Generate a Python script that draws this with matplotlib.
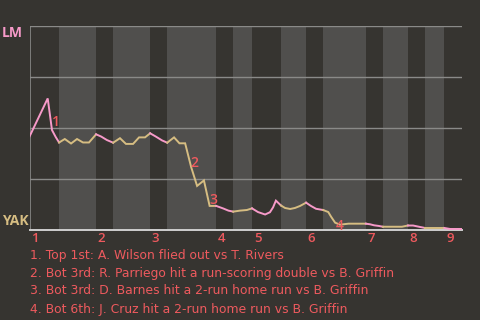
import numpy as np
import matplotlib
matplotlib.use("Agg")
import matplotlib.pyplot as plt

# ----- data -----
# half-inning boundaries, in plate-appearance units (top 1st .. top 9th)
half_edges = [0, 5.2, 11.7, 14.7, 21.2, 24.2, 32.8, 35.8, 39.1, 44.2,
              48.6, 51.6, 59.1, 62.1, 66.5, 69.5, 72.9, 76]
innings = ["1", "2", "3", "4", "5", "6", "7", "8", "9"]

# LM win probability (%) over the game
wp_x = [0, 3.2, 3.95, 4.6, 5.2, 6.2, 7.3, 8.35, 9.4, 10.45, 11.7,
        12.6, 13.6, 14.7, 15.9, 16.95, 18.2, 19.25, 20.3, 21.2,
        22.2, 23.3, 24.2, 25.4, 26.35, 27.35, 28.4, 29.45, 30.65, 31.65, 32.8,
        34.0, 34.95, 35.8, 37.0, 38.2, 39.1, 40.15, 41.4, 42.25, 42.8, 43.3, 44.2,
        44.9, 45.8, 46.65, 47.55, 48.6, 49.45, 50.35, 51.6,
        52.5, 53.0, 53.7, 54.55, 56.05, 59.1, 59.85, 60.55, 61.35, 62.1,
        65.45, 66.5, 67.4, 68.6, 69.5, 72.9, 73.9, 76]
wp_lm = [45.8, 64.5, 49.0, 45.6, 42.9, 44.6, 42.4, 44.6, 42.9, 42.9, 46.9,
         45.8, 44.1, 42.8, 45.0, 42.2, 42.2, 45.4, 45.4, 47.4,
         45.8, 43.9, 42.8, 45.4, 42.5, 42.5, 30.9, 21.6, 24.3, 11.8, 11.8,
         10.6, 9.5, 9.0, 9.5, 9.8, 10.6, 8.8, 7.6, 8.7, 11.1, 14.4, 12.0,
         10.8, 10.3, 10.8, 11.8, 13.4, 11.8, 10.4, 9.8,
         8.8, 6.5, 3.6, 2.6, 3.1, 3.1, 2.8, 2.3, 2.0, 1.6,
         1.6, 2.2, 2.2, 1.5, 1.0, 1.0, 0.5, 0.5]

# key events: label, position of the marker number
event_ids = ["1", "2", "3", "4"]
event_x = [4.65, 29.0, 32.25, 54.5]
event_wp = [52.9, 32.8, 14.5, 2.0]
event_notes = [
    "1. Top 1st: A. Wilson flied out vs T. Rivers",
    "2. Bot 3rd: R. Parriego hit a run-scoring double vs B. Griffin",
    "3. Bot 3rd: D. Barnes hit a 2-run home run vs B. Griffin",
    "4. Bot 6th: J. Cruz hit a 2-run home run vs B. Griffin",
]

# ----- style -----
BG = "#363430"
BAND = "#504f4d"
GRID = "#8a8a88"
BASE = "#cfcfcf"
PINK = "#f79ac9"
TAN = "#d6bd82"
RED = "#ee5a5e"
FONT = ["Open Sans", "DejaVu Sans"]
NOTE_FONT = ["DejaVu Sans"]

fig = plt.figure(figsize=(4.8, 3.2), dpi=100, facecolor=BG)
W, H = 480, 320
ax = fig.add_axes([29.5 / W, 1 - 230 / H, (462 - 29.5) / W, (230 - 26) / H])
ax.set_facecolor(BG)
ax.set_xlim(half_edges[0], half_edges[-1])
ax.set_ylim(0, 100)
for s in ax.spines.values():
    s.set_visible(False)
ax.set_xticks([])
ax.set_yticks([])

# bottom halves shaded
for i in range(1, len(half_edges) - 1, 2):
    ax.axvspan(half_edges[i], half_edges[i + 1], color=BAND, lw=0, zorder=0)

for g in [25, 50, 75, 100]:
    ax.axhline(g, color=GRID, lw=1.0, zorder=1)
ax.axvline(0, color=GRID, lw=1.2, zorder=1)
ax.axhline(0, color=BASE, lw=1.4, zorder=1, clip_on=False)

# line coloured by batting team
wx = np.array(wp_x)
wy = np.array(wp_lm)
for i in range(len(half_edges) - 1):
    lo, hi = half_edges[i], half_edges[i + 1]
    m = (wx >= lo - 1e-9) & (wx <= hi + 1e-9)
    ax.plot(wx[m], wy[m], color=PINK if i % 2 == 0 else TAN,
            lw=1.4, zorder=3, solid_joinstyle="miter")

for lab, x, y in zip(event_ids, event_x, event_wp):
    ax.text(x, y, lab, ha="center", va="center", color=RED,
            fontsize=10, weight="semibold", family=FONT, zorder=4)

# inning labels at the start of each inning
for lab, x in zip(innings, half_edges[0::2]):
    ax.text(x + 0.3, -1.2, lab, ha="left", va="top", color=RED,
            fontsize=9.5, weight="semibold", family=FONT, clip_on=False)

# team labels
fig.text(2 / W, 1 - 33 / H, "LM", ha="left", va="center", color=PINK,
         fontsize=10, weight="bold", family=FONT)
fig.text(2 / W, 1 - 221 / H, "YAK", ha="left", va="center", color=TAN,
         fontsize=10, weight="bold", family=FONT)

# notes
for k, note in enumerate(event_notes):
    fig.text(30 / W, 1 - (255 + 18 * k) / H, note, ha="left", va="center",
             color=RED, fontsize=8.9, family=NOTE_FONT)

fig.savefig("out.png", dpi=100, facecolor=BG)
